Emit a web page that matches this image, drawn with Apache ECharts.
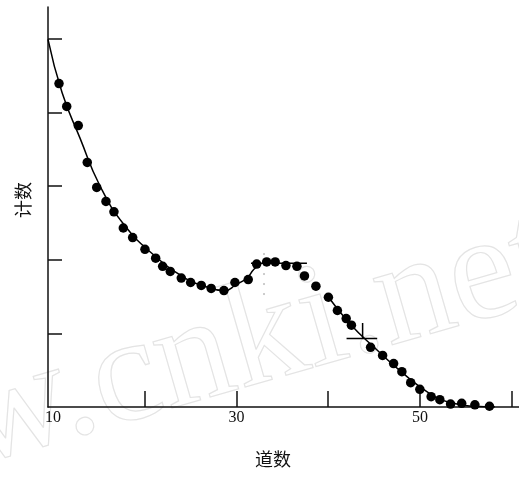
<!DOCTYPE html>
<html>
<head>
<meta charset="utf-8">
<script src="https://cdn.jsdelivr.net/npm/echarts@6/dist/echarts.min.js"></script>
<style>
    html, body { margin: 0; padding: 0; background: #fff; }
    #chart { width: 519px; height: 480px; }
</style>
</head>
<body>
<div id="chart"></div>
<script>
// 测量点: 道数 / 计数
let channels = [10.65, 11.49, 12.75, 13.73, 14.76, 15.77, 16.64, 17.66, 18.68, 20.02,
    21.19, 21.95, 22.78, 23.98, 25.00, 26.16, 27.24, 28.63, 29.83, 31.28,
    32.20, 33.29, 34.22, 35.39, 36.59, 37.41, 38.66, 40.02, 41.00, 41.96,
    42.53, 44.62, 45.93, 47.13, 48.03, 48.99, 49.99, 51.22, 52.17, 53.34,
    54.55, 55.99, 57.58];
let counts = [4.39, 4.08, 3.82, 3.32, 2.98, 2.79, 2.65, 2.43, 2.30, 2.14,
    2.02, 1.91, 1.84, 1.75, 1.69, 1.65, 1.61, 1.58, 1.69, 1.73,
    1.94, 1.97, 1.97, 1.92, 1.91, 1.78, 1.64, 1.49, 1.31, 1.20,
    1.11, 0.81, 0.70, 0.59, 0.48, 0.33, 0.24, 0.14, 0.10, 0.04,
    0.05, 0.03, 0.01];

// 拟合曲线 (左段 / 右段)
let leftCurveCh = [9.45, 10.98, 12.94, 15.12, 17.84, 21.11, 24.38, 26.02, 28.74, 29.94, 31.14, 31.90, 32.67];
let leftCurveCount = [4.99, 4.27, 3.65, 3.00, 2.46, 2.05, 1.75, 1.66, 1.58, 1.66, 1.75, 1.87, 1.94];
let rightCurveCh = [39.86, 42.37, 45.09, 48.14, 50.87, 53.0, 55.99, 58.17];
let rightCurveCount = [1.52, 1.13, 0.80, 0.46, 0.20, 0.07, 0.01, 0];

// 峰高线, 半高标记, 峰位
let peakLevelCh = [31.58, 37.68];
let peakLevelCount = [1.95, 1.95];
let halfLevelCh = [42.0, 45.34];
let halfLevelCount = [0.93, 0.93];
let halfMarkCh = [43.75, 43.75];
let halfMarkCount = [1.14, 0.93];
let peakPosCh = [33.0, 33.0];
let peakPosCount = [2.09, 1.49];

// 坐标轴刻度
let xTicks = [20, 30, 40, 50, 60];
let xLabels = [10, 30, 50];
let yTicks = [1, 2, 3, 4, 5];

function pairs(xs, ys) {
    return xs.map(function (x, i) { return [x, ys[i]]; });
}

let chart = echarts.init(document.getElementById('chart'));

let lineStyle = { color: '#000', width: 1.5 };

let option = {
    backgroundColor: '#fff',
    animation: false,
    grid: {
        left: 48,
        right: 0,
        top: 7,
        bottom: 73,
        outerBoundsMode: 'none'
    },
    xAxis: {
        type: 'value',
        min: 9.45,
        max: 60.8,
        name: '道数',
        nameLocation: 'middle',
        nameGap: 43,
        nameTextStyle: {
            fontFamily: 'Noto Sans CJK SC',
            fontSize: 18,
            color: '#111',
            padding: [0, 21, 0, 0]
        },
        axisLine: { lineStyle: { color: '#111', width: 1.5 } },
        axisTick: {
            inside: true,
            length: 16,
            customValues: xTicks,
            lineStyle: { color: '#111', width: 1.5 }
        },
        axisLabel: {
            customValues: xLabels,
            margin: 3,
            fontFamily: 'Liberation Serif',
            fontSize: 16,
            color: '#111'
        },
        splitLine: { show: false }
    },
    yAxis: {
        type: 'value',
        min: 0,
        max: 5.43,
        interval: 1,
        name: '计数',
        nameLocation: 'middle',
        nameRotate: 90,
        nameGap: 16,
        nameTextStyle: {
            fontFamily: 'Noto Sans CJK SC',
            fontSize: 18,
            color: '#111',
            padding: [0, 0, 0, 14]
        },
        axisLine: { show: true, lineStyle: { color: '#111', width: 1.5 } },
        axisTick: {
            inside: true,
            length: 14,
            customValues: yTicks,
            lineStyle: { color: '#111', width: 1.5 }
        },
        axisLabel: { show: false },
        splitLine: { show: false }
    },
    graphic: [
        {
            // 水印
            type: 'text',
            x: -245,
            y: 487,
            rotation: 0.28,
            silent: true,
            z: -10,
            style: {
                text: 'www.cnki.net',
                font: '150px "Liberation Serif"',
                fill: 'rgba(0,0,0,0)',
                stroke: '#e4e4e4',
                lineWidth: 1.2,
                textAlign: 'left',
                verticalAlign: 'middle'
            }
        }
    ],
    series: [
        {
            type: 'line',
            data: pairs(leftCurveCh, leftCurveCount),
            smooth: 0.5,
            showSymbol: false,
            lineStyle: lineStyle
        },
        {
            type: 'line',
            data: pairs(peakLevelCh, peakLevelCount),
            showSymbol: false,
            lineStyle: lineStyle
        },
        {
            type: 'line',
            data: pairs(rightCurveCh, rightCurveCount),
            smooth: 0.5,
            showSymbol: false,
            lineStyle: lineStyle
        },
        {
            type: 'line',
            data: pairs(halfLevelCh, halfLevelCount),
            showSymbol: false,
            lineStyle: lineStyle
        },
        {
            type: 'line',
            data: pairs(halfMarkCh, halfMarkCount),
            showSymbol: false,
            lineStyle: lineStyle
        },
        {
            type: 'line',
            data: pairs(peakPosCh, peakPosCount),
            showSymbol: false,
            lineStyle: { color: '#999', width: 1, type: [2, 8] }
        },
        {
            type: 'scatter',
            data: pairs(channels, counts),
            symbolSize: 9.5,
            itemStyle: { color: '#000', opacity: 1 },
            z: 5
        }
    ]
};

chart.setOption(option);
</script>
</body>
</html>
